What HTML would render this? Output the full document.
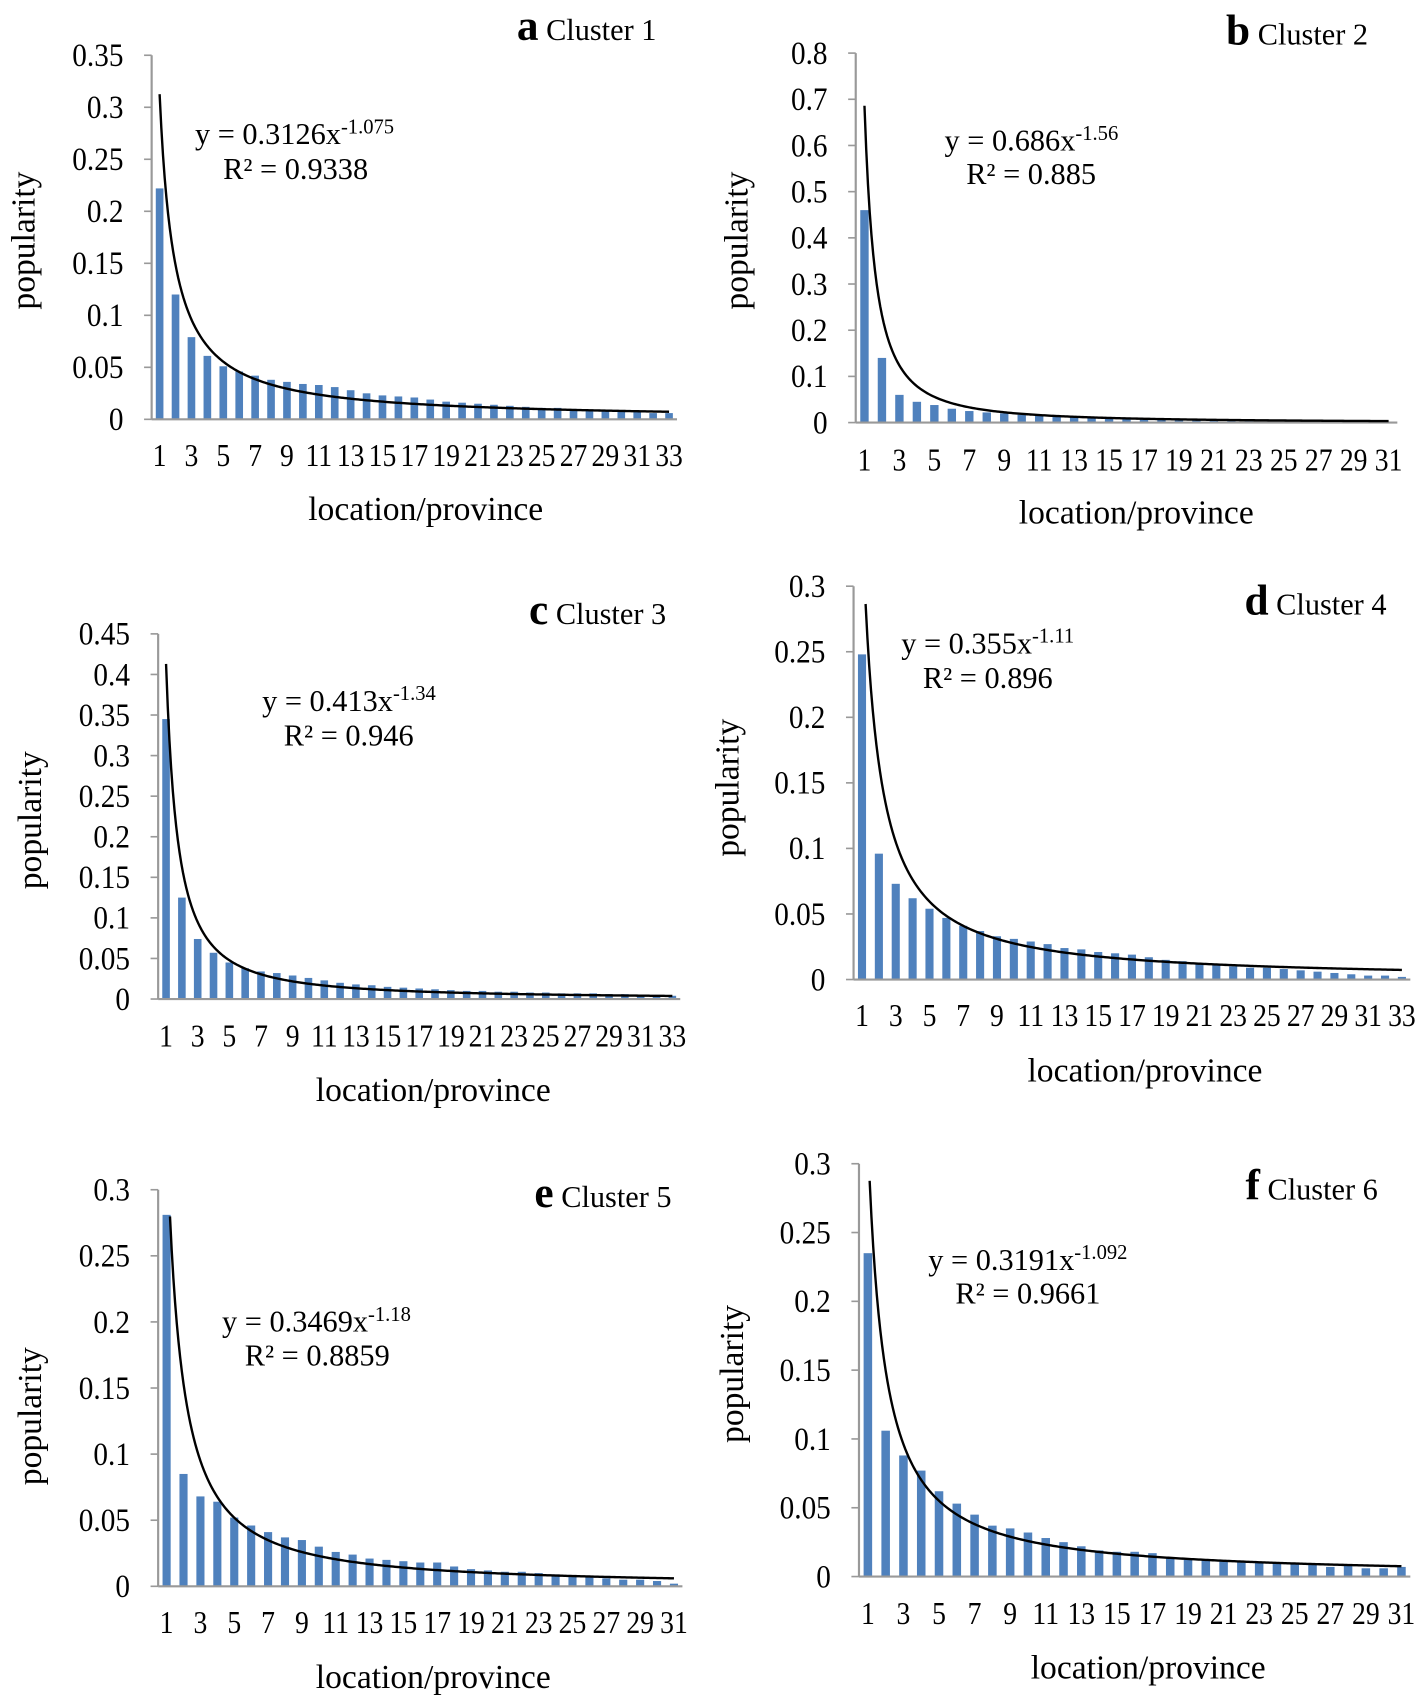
<!DOCTYPE html>
<html><head><meta charset="utf-8"><style>
html,body{margin:0;padding:0;background:#fff;}
svg{display:block;}
text{font-family:"Liberation Serif","DejaVu Serif",serif;fill:#000;}
</style></head><body>
<svg id="fig" width="1419" height="1699" viewBox="0 0 1310 1568" preserveAspectRatio="none"></svg>
<script>
const valsA=[.222,.12,.079,.061,.051,.046,.042,.038,.036,.034,.033,.031,.028,.025,.023,.022,.021,.019,.017,.016,.015,.014,.013,.012,.011,.011,.010,.009,.009,.008,.007,.006,.006];
const valsB=[.46,.14,.06,.045,.038,.03,.025,.022,.02,.017,.015,.013,.012,.011,.01,.009,.008,.007,.006,.006,.005,.005,.004,.004,.004,.003,.003,.003,.002,.002,.002];
const valsC=[.345,.125,.074,.057,.045,.038,.034,.032,.029,.026,.023,.02,.018,.017,.015,.014,.013,.012,.011,.01,.01,.009,.009,.008,.008,.007,.007,.007,.006,.006,.005,.005,.004];
const valsD=[.248,.096,.073,.062,.054,.047,.041,.037,.033,.031,.029,.027,.024,.023,.021,.020,.019,.017,.015,.014,.012,.011,.010,.009,.009,.008,.007,.006,.005,.004,.003,.003,.002];
const valsE=[.281,.085,.068,.064,.052,.046,.041,.037,.035,.030,.026,.024,.021,.020,.019,.018,.018,.015,.013,.012,.011,.011,.010,.009,.008,.007,.006,.005,.005,.004,.002];
const valsF=[.235,.106,.088,.077,.062,.053,.045,.037,.035,.032,.028,.025,.022,.019,.018,.018,.017,.014,.013,.012,.011,.011,.010,.010,.009,.009,.007,.008,.006,.006,.007];
const yMaxes=[0.35,0.8,0.45,0.3,0.3,0.3];
const ySteps=[0.05,0.1,0.05,0.05,0.05,0.05];
const fitCoef=[0.3126,0.686,0.413,0.355,0.3469,0.3191];
const fitExp=[-1.075,-1.56,-1.34,-1.11,-1.18,-1.092];
const eqCoefLabels=["0.3126","0.686","0.413","0.355","0.3469","0.3191"];
const eqExpLabels=["-1.075","-1.56","-1.34","-1.11","-1.18","-1.092"];
const r2Labels=["0.9338","0.885","0.946","0.896","0.8859","0.9661"];
const panelLetters=["a","b","c","d","e","f"];
const clusterNames=["Cluster 1","Cluster 2","Cluster 3","Cluster 4","Cluster 5","Cluster 6"];
const allVals=[valsA,valsB,valsC,valsD,valsE,valsF];
const L=[
 {x0:140,x1:625,yt:51,yb:387,lab:420,xl:[393,470],yl:[22,222],tt:[606,28],eq:[180,124],r2:[206,156]},
 {x0:790,x1:1290,yt:49,yb:390,lab:424,xl:[1049,473],yl:[680,222],tt:[1263,32],eq:[872,130],r2:[892,161]},
 {x0:146,x1:628,yt:585,yb:922,lab:956,xl:[400,1006],yl:[28,757],tt:[615,567],eq:[242,647],r2:[262,679]},
 {x0:788,x1:1302,yt:541,yb:904,lab:937,xl:[1057,988],yl:[672,727],tt:[1280,558],eq:[832,594],r2:[852,626]},
 {x0:146,x1:630,yt:1098,yb:1464,lab:1497,xl:[400,1548],yl:[28,1307],tt:[620,1105],eq:[205,1220],r2:[226,1251]},
 {x0:793,x1:1302,yt:1074,yb:1455,lab:1489,xl:[1060,1539],yl:[676,1268],tt:[1272,1098],eq:[857,1163],r2:[882,1194]}
];
const NS="http://www.w3.org/2000/svg";
const svg=document.getElementById('fig');
function mk(tag,attrs,parent,txt){const e=document.createElementNS(NS,tag);for(const k in attrs)e.setAttribute(k,attrs[k]);if(txt!==undefined)e.textContent=txt;parent.appendChild(e);return e;}
L.forEach((p,k)=>{
 const vals=allVals[k],n=vals.length,ymax=yMaxes[k];
 const g=mk('g',{},svg);
 
 
 const w=(p.x1-p.x0)/n;
 const xs=i=>p.x0+(i+0.5)*w;
 const ys=v=>p.yb-(v/ymax)*(p.yb-p.yt);
 const nt=Math.round(ymax/ySteps[k]);
 for(let t=0;t<=nt;t++){
  const v=t*ySteps[k],y=ys(v);
  const tk=mk('line',{x1:p.x0-7,x2:p.x0,y1:y,y2:y,stroke:'#999','stroke-width':1.5},g);
  
  
  const ax=p.x0-26;
  const lb=mk('text',{x:ax,y:y+10,'text-anchor':'end','font-size':30,'transform':'translate('+ax+' 0) scale(0.9 1) translate('+(-ax)+' 0)'},g,String(+v.toFixed(2)));
  
  
 }
 vals.forEach((v,i)=>{
  const r=mk('rect',{x:xs(i)-w*0.24,y:ys(v),width:w*0.48,height:p.yb-ys(v),fill:'#4f81bd'},g);
  
  
  if(i%2===0){
   const cx=xs(i);
   const t=mk('text',{x:cx,y:p.lab+10,'text-anchor':'middle','font-size':29,'transform':'translate('+cx+' 0) scale(0.88 1) translate('+(-cx)+' 0)'},g,String(i+1));
   
   
  }
 });
 const ya=mk('line',{x1:p.x0,x2:p.x0,y1:p.yt,y2:p.yb,stroke:'#999','stroke-width':2},g);
 
 
 const xa=mk('line',{x1:p.x0,x2:p.x1,y1:p.yb,y2:p.yb,stroke:'#999','stroke-width':2},g);
 
 
 let d='';
 for(let s=0;s<=300;s++){
  const x=1+(n-1)*s/300;
  let y=ys(fitCoef[k]*Math.pow(x,fitExp[k]));
  if(y<p.yt){continue;}
  d+=(d?'L':'M')+xs(x-1).toFixed(2)+','+y.toFixed(2);
 }
 const c=mk('path',{d:d,fill:'none',stroke:'#000','stroke-width':2.2},g);
 
 
 const xl=mk('text',{x:p.xl[0],y:p.xl[1]+10,'text-anchor':'middle','font-size':31},g,'location/province');
 
 
 const yl=mk('text',{x:p.yl[0],y:p.yl[1],'text-anchor':'middle','font-size':31,transform:'rotate(-90 '+(p.yl[0])+' '+p.yl[1]+')',dy:10},g,'popularity');
 
 
 const tt=mk('text',{x:p.tt[0],y:p.tt[1]+9,'text-anchor':'end','font-size':28},g);
 
 
 mk('tspan',{'font-weight':'bold','font-size':40},tt,panelLetters[k]);
 mk('tspan',{},tt,' '+clusterNames[k]);
 const eq=mk('text',{x:p.eq[0],y:p.eq[1]+9,'font-size':28},g);
 
 
 mk('tspan',{},eq,'y = '+eqCoefLabels[k]+'x');
 mk('tspan',{'font-size':19,dy:-10},eq,eqExpLabels[k]);
 const r2=mk('text',{x:p.r2[0],y:p.r2[1]+9,'font-size':28},g,'R² = '+r2Labels[k]);
 
 
});
</script>
</body></html>
